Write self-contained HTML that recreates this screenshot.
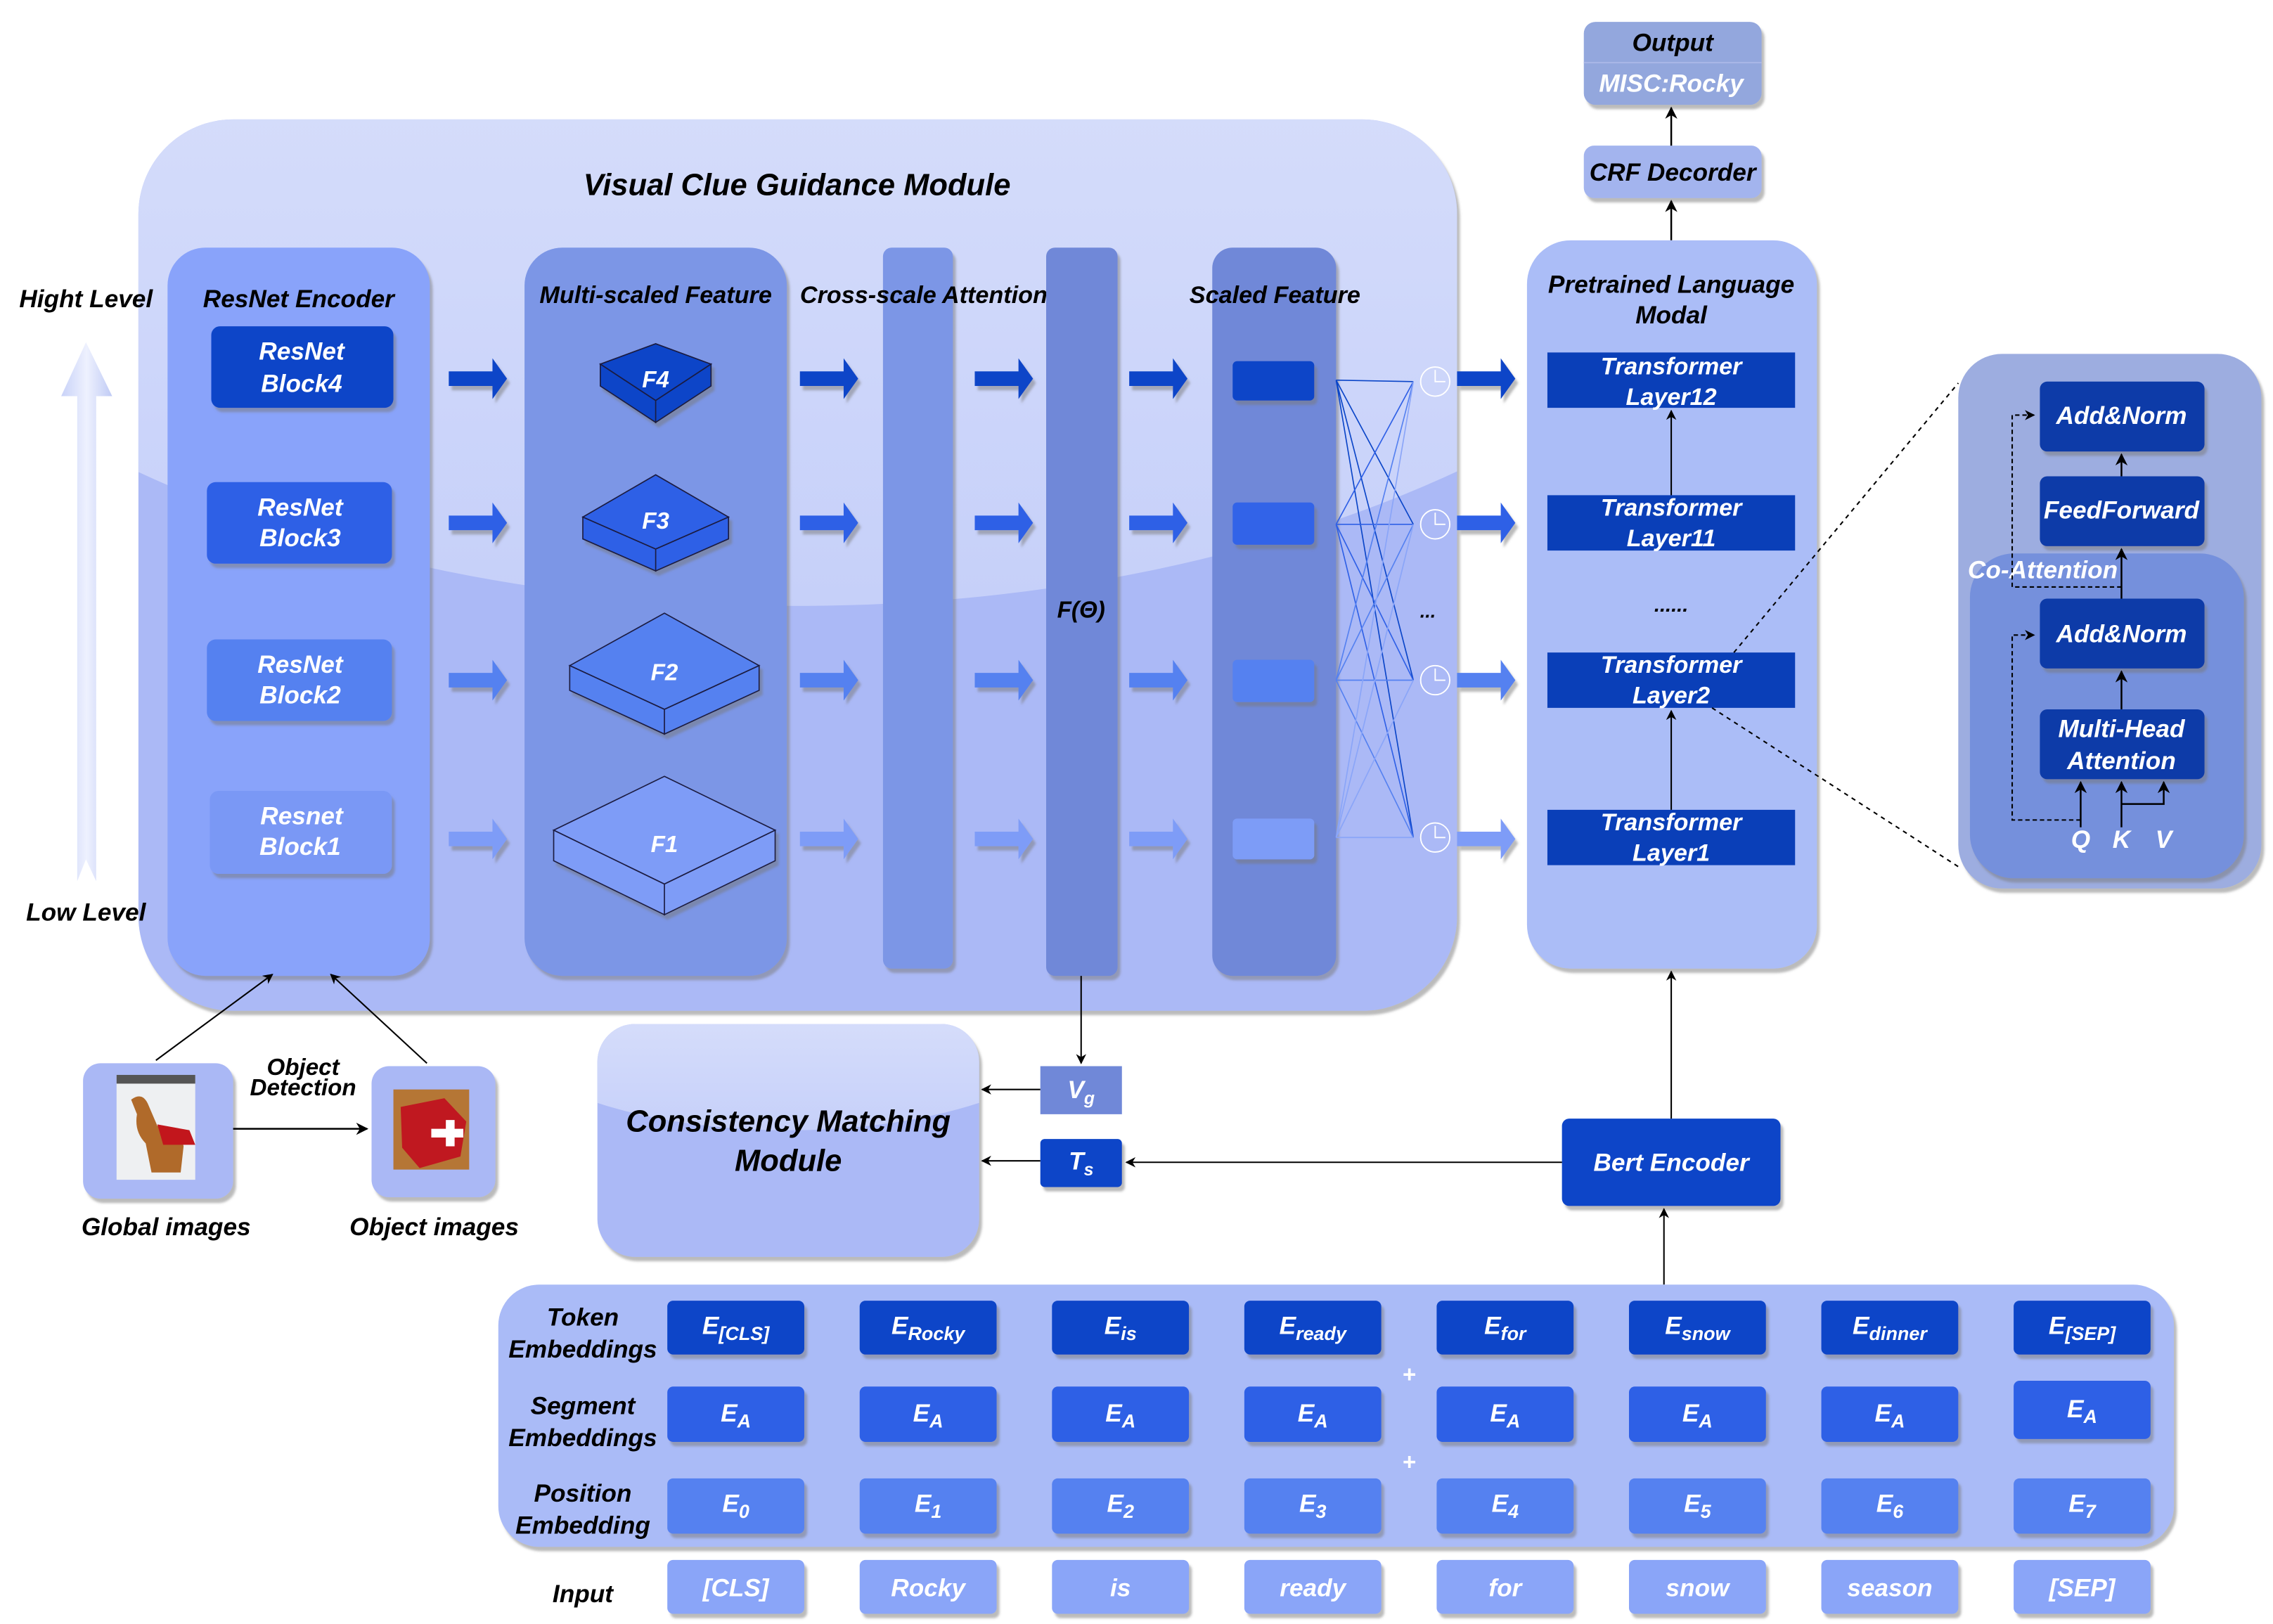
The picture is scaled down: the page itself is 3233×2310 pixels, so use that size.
<!DOCTYPE html>
<html><head><meta charset="utf-8"><style>
html,body{margin:0;padding:0;background:#fff;}
svg{display:block;}
text{font-family:"Liberation Sans",sans-serif;font-style:italic;font-weight:bold;}
</style></head><body>
<svg width="3233" height="2310" viewBox="0 0 1560 1115" preserveAspectRatio="none" xmlns="http://www.w3.org/2000/svg">
<defs>
<linearGradient id="gTop" x1="0" y1="0" x2="0" y2="1">
<stop offset="0" stop-color="#e9edfd"/><stop offset="1" stop-color="#c6d0f9"/></linearGradient>
<linearGradient id="gUp" x1="0" y1="0" x2="1" y2="0">
<stop offset="0" stop-color="#c8d2f8"/><stop offset="0.5" stop-color="#eef1fe"/><stop offset="1" stop-color="#c0cbf5"/></linearGradient>
<clipPath id="cBig"><rect x="95" y="82" width="905" height="612" rx="65"/></clipPath>
<clipPath id="cCM"><rect x="410" y="703" width="262" height="160" rx="26"/></clipPath>
<marker id="ah" viewBox="0 0 10 10" refX="9" refY="5" markerWidth="7" markerHeight="7" orient="auto"><path d="M0,0 L10,5 L0,10 L3,5 z" fill="#000"/></marker>
<filter id="sh" x="-10%" y="-10%" width="130%" height="130%"><feDropShadow dx="2" dy="3" stdDeviation="0.8" flood-color="#777" flood-opacity="0.5"/></filter>
</defs>

<!-- Output & CRF -->
<rect x="1087" y="15" width="122" height="57" rx="8" fill="#93a7dd" filter="url(#sh)"/>
<line x1="1087" y1="43" x2="1209" y2="43" stroke="#a8b6e6" stroke-width="1"/>
<text x="1148" y="35" font-size="17" text-anchor="middle" fill="#000">Output</text>
<text x="1147" y="63" font-size="17" text-anchor="middle" fill="#fff">MISC:Rocky</text>
<rect x="1087" y="100" width="122" height="36" rx="7" fill="#a3b4ee" filter="url(#sh)"/>
<text x="1148" y="124" font-size="17" text-anchor="middle" fill="#000">CRF Decorder</text>
<line x1="1147" y1="100" x2="1147" y2="74" stroke="#000" stroke-width="1.2" marker-end="url(#ah)"/>
<line x1="1147" y1="165" x2="1147" y2="138" stroke="#000" stroke-width="1.2" marker-end="url(#ah)"/>

<!-- Big module -->
<rect x="95" y="82" width="905" height="612" rx="65" fill="#abb9f6" filter="url(#sh)"/>
<g clip-path="url(#cBig)"><ellipse cx="547" cy="0" rx="721" ry="416" fill="url(#gTop)"/></g>
<text x="547" y="134" font-size="21" text-anchor="middle" fill="#000">Visual Clue Guidance Module</text>

<!-- up arrow -->
<path d="M53,605 L53,272 L42,272 L59,235 L77,272 L66,272 L66,605 L59,590 z" fill="url(#gUp)"/>
<text x="59" y="211" font-size="17" text-anchor="middle">Hight Level</text>
<text x="59" y="632" font-size="17" text-anchor="middle">Low Level</text>

<!-- columns -->
<rect x="115" y="170" width="180" height="500" rx="26" fill="#89a3fa" filter="url(#sh)"/>
<text x="205" y="211" font-size="17" text-anchor="middle">ResNet Encoder</text>
<rect x="360" y="170" width="180" height="500" rx="26" fill="#7b96e6" filter="url(#sh)"/>
<text x="450" y="208" font-size="16.5" text-anchor="middle">Multi-scaled Feature</text>
<rect x="606" y="170" width="48" height="495" rx="6" fill="#7b96e6" filter="url(#sh)"/>
<text x="634" y="208" font-size="16.5" text-anchor="middle">Cross-scale Attention</text>
<rect x="718" y="170" width="49" height="500" rx="6" fill="#7088d8" filter="url(#sh)"/>
<text x="742" y="424" font-size="16" text-anchor="middle">F(Θ)</text>
<rect x="832" y="170" width="85" height="500" rx="14" fill="#7088d8" filter="url(#sh)"/>
<text x="875" y="208" font-size="16.5" text-anchor="middle">Scaled Feature</text>

<!-- ResNet blocks -->
<g filter="url(#sh)">
<rect x="145" y="224" width="125" height="56" rx="6" fill="#0a45c8"/>
<rect x="142" y="331" width="127" height="56" rx="6" fill="#2f60e6"/>
<rect x="142" y="439" width="127" height="56" rx="6" fill="#5581f0"/>
<rect x="144" y="543" width="125" height="57" rx="6" fill="#7a98f5"/>
</g>
<g font-size="17" text-anchor="middle" fill="#fff">
<text x="207" y="247">ResNet</text><text x="207" y="269">Block4</text>
<text x="206" y="354">ResNet</text><text x="206" y="375">Block3</text>
<text x="206" y="462">ResNet</text><text x="206" y="483">Block2</text>
<text x="207" y="566">Resnet</text><text x="206" y="587">Block1</text>
</g>

<!-- cubes -->
<g stroke="#1a1a40" stroke-width="0.8" filter="url(#sh)">
<path d="M412,250 L450,236 L488,250 L450,275 z" fill="#0a45c8"/>
<path d="M412,250 L450,275 L450,290 L412,265 z M450,275 L488,250 L488,265 L450,290 z" fill="#0a45c8"/>
<path d="M400,355 L450,326 L500,355 L450,377 z" fill="#2f60e6"/>
<path d="M400,355 L450,377 L450,392 L400,370 z M450,377 L500,355 L500,370 L450,392 z" fill="#2f60e6"/>
<path d="M391,457 L456,421 L521,457 L456,487 z" fill="#5581f0"/>
<path d="M391,457 L456,487 L456,504 L391,474 z M456,487 L521,457 L521,474 L456,504 z" fill="#5581f0"/>
<path d="M380,570 L456,533 L532,570 L456,607 z" fill="#7e9cf7"/>
<path d="M380,570 L456,607 L456,628 L380,591 z M456,607 L532,570 L532,591 L456,628 z" fill="#7e9cf7"/>
</g>
<g font-size="16" text-anchor="middle" fill="#fff">
<text x="450" y="266">F4</text><text x="450" y="363">F3</text><text x="456" y="467">F2</text><text x="456" y="585">F1</text>
</g>

<!-- block arrows -->
<g filter="url(#sh)">
<g fill="#0a45c8">
<path d="M308,255 h30 v-9 l10,14 l-10,14 v-9 h-30 z"/><path d="M549,255 h30 v-9 l10,14 l-10,14 v-9 h-30 z"/><path d="M669,255 h30 v-9 l10,14 l-10,14 v-9 h-30 z"/><path d="M775,255 h30 v-9 l10,14 l-10,14 v-9 h-30 z"/><path d="M1000,255 h30 v-9 l10,14 l-10,14 v-9 h-30 z"/>
</g>
<g fill="#2f60e6">
<path d="M308,354 h30 v-9 l10,14 l-10,14 v-9 h-30 z"/><path d="M549,354 h30 v-9 l10,14 l-10,14 v-9 h-30 z"/><path d="M669,354 h30 v-9 l10,14 l-10,14 v-9 h-30 z"/><path d="M775,354 h30 v-9 l10,14 l-10,14 v-9 h-30 z"/><path d="M1000,354 h30 v-9 l10,14 l-10,14 v-9 h-30 z"/>
</g>
<g fill="#5581f0">
<path d="M308,462 h30 v-9 l10,14 l-10,14 v-9 h-30 z"/><path d="M549,462 h30 v-9 l10,14 l-10,14 v-9 h-30 z"/><path d="M669,462 h30 v-9 l10,14 l-10,14 v-9 h-30 z"/><path d="M775,462 h30 v-9 l10,14 l-10,14 v-9 h-30 z"/><path d="M1000,462 h30 v-9 l10,14 l-10,14 v-9 h-30 z"/>
</g>
<g fill="#7e9cf7">
<path d="M308,571 h30 v-9 l10,14 l-10,14 v-9 h-30 z"/><path d="M549,571 h30 v-9 l10,14 l-10,14 v-9 h-30 z"/><path d="M669,571 h30 v-9 l10,14 l-10,14 v-9 h-30 z"/><path d="M775,571 h30 v-9 l10,14 l-10,14 v-9 h-30 z"/><path d="M1000,571 h30 v-9 l10,14 l-10,14 v-9 h-30 z"/>
</g>
</g>

<!-- scaled feature rects -->
<g filter="url(#sh)">
<rect x="846" y="248" width="56" height="27" rx="3" fill="#0a45c8"/>
<rect x="846" y="345" width="56" height="29" rx="3" fill="#3064e8"/>
<rect x="846" y="453" width="56" height="29" rx="3" fill="#5581f0"/>
<rect x="846" y="562" width="56" height="28" rx="3" fill="#7d9cf7"/>
</g>

<!-- crossing lines -->
<g stroke-width="0.8" fill="none">
<g stroke="#0a45c8"><path d="M917,261 L970,262 M917,261 L970,360 M917,261 L970,467 M917,261 L970,575"/></g>
<g stroke="#2f60e6"><path d="M917,360 L970,262 M917,360 L970,360 M917,360 L970,467 M917,360 L970,575"/></g>
<g stroke="#5581f0"><path d="M917,467 L970,262 M917,467 L970,360 M917,467 L970,467 M917,467 L970,575"/></g>
<g stroke="#8aa5f8"><path d="M917,575 L970,262 M917,575 L970,360 M917,575 L970,467 M917,575 L970,575"/></g>
</g>
<g fill="none" stroke="#fff" stroke-width="0.9">
<circle cx="985" cy="262" r="10"/><path d="M985,254 v8 h7"/>
<circle cx="985" cy="360" r="10"/><path d="M985,352 v8 h7"/>
<circle cx="985" cy="467" r="10"/><path d="M985,459 v8 h7"/>
<circle cx="985" cy="575" r="10"/><path d="M985,567 v8 h7"/>
</g>
<text x="980" y="424" font-size="13" text-anchor="middle">...</text>

<!-- Pretrained -->
<rect x="1048" y="165" width="199" height="500" rx="30" fill="#abbdf7" filter="url(#sh)"/>
<text x="1147" y="201" font-size="17" text-anchor="middle">Pretrained Language</text>
<text x="1147" y="222" font-size="17" text-anchor="middle">Modal</text>
<g fill="#0a3fb8">
<rect x="1062" y="242" width="170" height="38"/><rect x="1062" y="340" width="170" height="38"/>
<rect x="1062" y="448" width="170" height="38"/><rect x="1062" y="556" width="170" height="38"/>
</g>
<g font-size="16.5" text-anchor="middle" fill="#fff">
<text x="1147" y="257">Transformer</text><text x="1147" y="278">Layer12</text>
<text x="1147" y="354">Transformer</text><text x="1147" y="375">Layer11</text>
<text x="1147" y="462">Transformer</text><text x="1147" y="483">Layer2</text>
<text x="1147" y="570">Transformer</text><text x="1147" y="591">Layer1</text>
</g>
<text x="1147" y="420" font-size="14" text-anchor="middle">......</text>
<line x1="1147" y1="340" x2="1147" y2="282" stroke="#000" stroke-width="1" marker-end="url(#ah)"/>
<line x1="1147" y1="556" x2="1147" y2="488" stroke="#000" stroke-width="1" marker-end="url(#ah)"/>

<!-- dashed zoom lines -->
<line x1="1190" y1="448" x2="1344" y2="263" stroke="#000" stroke-width="1" stroke-dasharray="3,3"/>
<line x1="1175" y1="486" x2="1344" y2="595" stroke="#000" stroke-width="1" stroke-dasharray="3,3"/>

<!-- Co-attention -->
<rect x="1344" y="243" width="208" height="367" rx="30" fill="#9dade0" filter="url(#sh)"/>
<rect x="1352" y="380" width="188" height="223" rx="30" fill="#7590dc" filter="url(#sh)"/>
<g fill="#0a3aa8" filter="url(#sh)">
<rect x="1400" y="262" width="113" height="48" rx="5"/>
<rect x="1400" y="327" width="113" height="48" rx="5"/>
<rect x="1400" y="411" width="113" height="48" rx="5"/>
<rect x="1400" y="487" width="113" height="48" rx="5"/>
</g>
<g font-size="17" text-anchor="middle" fill="#fff">
<text x="1456" y="291">Add&amp;Norm</text>
<text x="1456" y="356">FeedForward</text>
<text x="1456" y="441">Add&amp;Norm</text>
<text x="1456" y="506">Multi-Head</text><text x="1456" y="528">Attention</text>
<text x="1402" y="397">Co-Attention</text>
<text x="1428" y="582">Q</text><text x="1456" y="582">K</text><text x="1485" y="582">V</text>
</g>
<g stroke="#000" stroke-width="1.2" fill="none">
<line x1="1456" y1="327" x2="1456" y2="312" marker-end="url(#ah)"/>
<line x1="1456" y1="411" x2="1456" y2="377" marker-end="url(#ah)"/>
<line x1="1456" y1="487" x2="1456" y2="461" marker-end="url(#ah)"/>
<line x1="1428" y1="568" x2="1428" y2="537" marker-end="url(#ah)"/>
<line x1="1456" y1="568" x2="1456" y2="537" marker-end="url(#ah)"/>
<path d="M1456,552 H1485 V537" marker-end="url(#ah)"/>
</g>
<g stroke="#000" stroke-width="1" fill="none" stroke-dasharray="3,2">
<path d="M1428,563 H1381 V436 H1396" marker-end="url(#ah)"/>
<path d="M1456,403 H1381 V285 H1396" marker-end="url(#ah)"/>
</g>

<!-- images -->
<rect x="57" y="730" width="103" height="93" rx="12" fill="#aab8f5" filter="url(#sh)"/>
<rect x="80" y="738" width="54" height="72" fill="#eef0f2"/>
<rect x="80" y="738" width="54" height="6" fill="#555"/>
<path d="M90,755 q8,-6 12,4 l6,14 q16,2 18,14 l-2,18 h-20 l-4,-20 q-8,-8 -6,-20 z" fill="#b06a2a"/>
<path d="M108,772 l22,4 l4,10 l-22,0 z" fill="#c2161c"/>
<rect x="255" y="732" width="85" height="90" rx="12" fill="#aab8f5" filter="url(#sh)"/>
<rect x="270" y="748" width="52" height="55" fill="#b57635"/>
<path d="M275,760 l30,-6 l15,16 l-4,24 l-28,8 l-12,-14 z" fill="#c01820"/>
<path d="M296,775 l10,0 l0,-6 l6,0 l0,6 l6,0 l0,6 l-6,0 l0,6 l-6,0 l0,-6 l-10,0 z" fill="#fff"/>
<line x1="160" y1="775" x2="252" y2="775" stroke="#000" stroke-width="1.2" marker-end="url(#ah)"/>
<text x="208" y="738" font-size="16" text-anchor="middle">Object</text>
<text x="208" y="752" font-size="16" text-anchor="middle">Detection</text>
<text x="114" y="848" font-size="17" text-anchor="middle">Global images</text>
<text x="298" y="848" font-size="17" text-anchor="middle">Object images</text>
<line x1="107" y1="728" x2="187" y2="669" stroke="#000" stroke-width="1" marker-end="url(#ah)"/>
<line x1="293" y1="730" x2="227" y2="669" stroke="#000" stroke-width="1" marker-end="url(#ah)"/>

<!-- Consistency -->
<rect x="410" y="703" width="262" height="160" rx="26" fill="#abb9f6" filter="url(#sh)"/>
<g clip-path="url(#cCM)"><ellipse cx="541" cy="690" rx="210" ry="86" fill="url(#gTop)"/></g>
<text x="541" y="777" font-size="21" text-anchor="middle">Consistency Matching</text>
<text x="541" y="804" font-size="21" text-anchor="middle">Module</text>
<rect x="714" y="732" width="56" height="33" fill="#7088d8"/>
<text x="742" y="754" font-size="17" text-anchor="middle" fill="#fff">V<tspan font-size="12" dy="4">g</tspan></text>
<rect x="714" y="782" width="56" height="33" rx="3" fill="#0a45c8" filter="url(#sh)"/>
<text x="742" y="803" font-size="17" text-anchor="middle" fill="#fff">T<tspan font-size="12" dy="4">s</tspan></text>
<line x1="742" y1="670" x2="742" y2="730" stroke="#000" stroke-width="1" marker-end="url(#ah)"/>
<line x1="714" y1="748" x2="674" y2="748" stroke="#000" stroke-width="1" marker-end="url(#ah)"/>
<line x1="714" y1="797" x2="674" y2="797" stroke="#000" stroke-width="1" marker-end="url(#ah)"/>

<!-- Bert -->
<rect x="1072" y="768" width="150" height="60" rx="5" fill="#0a45c8" filter="url(#sh)"/>
<text x="1147" y="804" font-size="17" text-anchor="middle" fill="#fff">Bert Encoder</text>
<line x1="1072" y1="798" x2="773" y2="798" stroke="#000" stroke-width="1" marker-end="url(#ah)"/>
<line x1="1147" y1="768" x2="1147" y2="667" stroke="#000" stroke-width="1" marker-end="url(#ah)"/>
<line x1="1142" y1="882" x2="1142" y2="830" stroke="#000" stroke-width="1" marker-end="url(#ah)"/>

<!-- Embeddings -->
<rect x="342" y="882" width="1150" height="180" rx="28" fill="#aabbf7" filter="url(#sh)"/>
<g font-size="17" text-anchor="middle">
<text x="400" y="910">Token</text><text x="400" y="932">Embeddings</text>
<text x="400" y="971">Segment</text><text x="400" y="993">Embeddings</text>
<text x="400" y="1031">Position</text><text x="400" y="1053">Embedding</text>
<text x="400" y="1100">Input</text>
</g>
<g fill="#fff" font-size="16"><text x="967" y="949" text-anchor="middle">+</text><text x="967" y="1009" text-anchor="middle">+</text></g>
<g filter="url(#sh)">
<g fill="#0a45c8">
<rect x="458" y="893" width="94" height="37" rx="4"/><rect x="590" y="893" width="94" height="37" rx="4"/><rect x="722" y="893" width="94" height="37" rx="4"/><rect x="854" y="893" width="94" height="37" rx="4"/><rect x="986" y="893" width="94" height="37" rx="4"/><rect x="1118" y="893" width="94" height="37" rx="4"/><rect x="1250" y="893" width="94" height="37" rx="4"/><rect x="1382" y="893" width="94" height="37" rx="4"/>
</g>
<g fill="#2f60e6">
<rect x="458" y="952" width="94" height="38" rx="4"/><rect x="590" y="952" width="94" height="38" rx="4"/><rect x="722" y="952" width="94" height="38" rx="4"/><rect x="854" y="952" width="94" height="38" rx="4"/><rect x="986" y="952" width="94" height="38" rx="4"/><rect x="1118" y="952" width="94" height="38" rx="4"/><rect x="1250" y="952" width="94" height="38" rx="4"/><rect x="1382" y="948" width="94" height="40" rx="4"/>
</g>
<g fill="#5581f0">
<rect x="458" y="1015" width="94" height="38" rx="4"/><rect x="590" y="1015" width="94" height="38" rx="4"/><rect x="722" y="1015" width="94" height="38" rx="4"/><rect x="854" y="1015" width="94" height="38" rx="4"/><rect x="986" y="1015" width="94" height="38" rx="4"/><rect x="1118" y="1015" width="94" height="38" rx="4"/><rect x="1250" y="1015" width="94" height="38" rx="4"/><rect x="1382" y="1015" width="94" height="38" rx="4"/>
</g>
<g fill="#8aa5f8">
<rect x="458" y="1071" width="94" height="37" rx="4"/><rect x="590" y="1071" width="94" height="37" rx="4"/><rect x="722" y="1071" width="94" height="37" rx="4"/><rect x="854" y="1071" width="94" height="37" rx="4"/><rect x="986" y="1071" width="94" height="37" rx="4"/><rect x="1118" y="1071" width="94" height="37" rx="4"/><rect x="1250" y="1071" width="94" height="37" rx="4"/><rect x="1382" y="1071" width="94" height="37" rx="4"/>
</g>
</g>
<g fill="#fff" font-size="17" text-anchor="middle">
<text x="505" y="916">E<tspan font-size="13" dy="4">[CLS]</tspan></text>
<text x="637" y="916">E<tspan font-size="13" dy="4">Rocky</tspan></text>
<text x="769" y="916">E<tspan font-size="13" dy="4">is</tspan></text>
<text x="901" y="916">E<tspan font-size="13" dy="4">ready</tspan></text>
<text x="1033" y="916">E<tspan font-size="13" dy="4">for</tspan></text>
<text x="1165" y="916">E<tspan font-size="13" dy="4">snow</tspan></text>
<text x="1297" y="916">E<tspan font-size="13" dy="4">dinner</tspan></text>
<text x="1429" y="916">E<tspan font-size="13" dy="4">[SEP]</tspan></text>
<text x="505" y="976">E<tspan font-size="13" dy="4">A</tspan></text>
<text x="637" y="976">E<tspan font-size="13" dy="4">A</tspan></text>
<text x="769" y="976">E<tspan font-size="13" dy="4">A</tspan></text>
<text x="901" y="976">E<tspan font-size="13" dy="4">A</tspan></text>
<text x="1033" y="976">E<tspan font-size="13" dy="4">A</tspan></text>
<text x="1165" y="976">E<tspan font-size="13" dy="4">A</tspan></text>
<text x="1297" y="976">E<tspan font-size="13" dy="4">A</tspan></text>
<text x="1429" y="973">E<tspan font-size="13" dy="4">A</tspan></text>
<text x="505" y="1038">E<tspan font-size="13" dy="4">0</tspan></text>
<text x="637" y="1038">E<tspan font-size="13" dy="4">1</tspan></text>
<text x="769" y="1038">E<tspan font-size="13" dy="4">2</tspan></text>
<text x="901" y="1038">E<tspan font-size="13" dy="4">3</tspan></text>
<text x="1033" y="1038">E<tspan font-size="13" dy="4">4</tspan></text>
<text x="1165" y="1038">E<tspan font-size="13" dy="4">5</tspan></text>
<text x="1297" y="1038">E<tspan font-size="13" dy="4">6</tspan></text>
<text x="1429" y="1038">E<tspan font-size="13" dy="4">7</tspan></text>
<text x="505" y="1096">[CLS]</text><text x="637" y="1096">Rocky</text><text x="769" y="1096">is</text><text x="901" y="1096">ready</text>
<text x="1033" y="1096">for</text><text x="1165" y="1096">snow</text><text x="1297" y="1096">season</text><text x="1429" y="1096">[SEP]</text>
</g>
</svg>
</body></html>
